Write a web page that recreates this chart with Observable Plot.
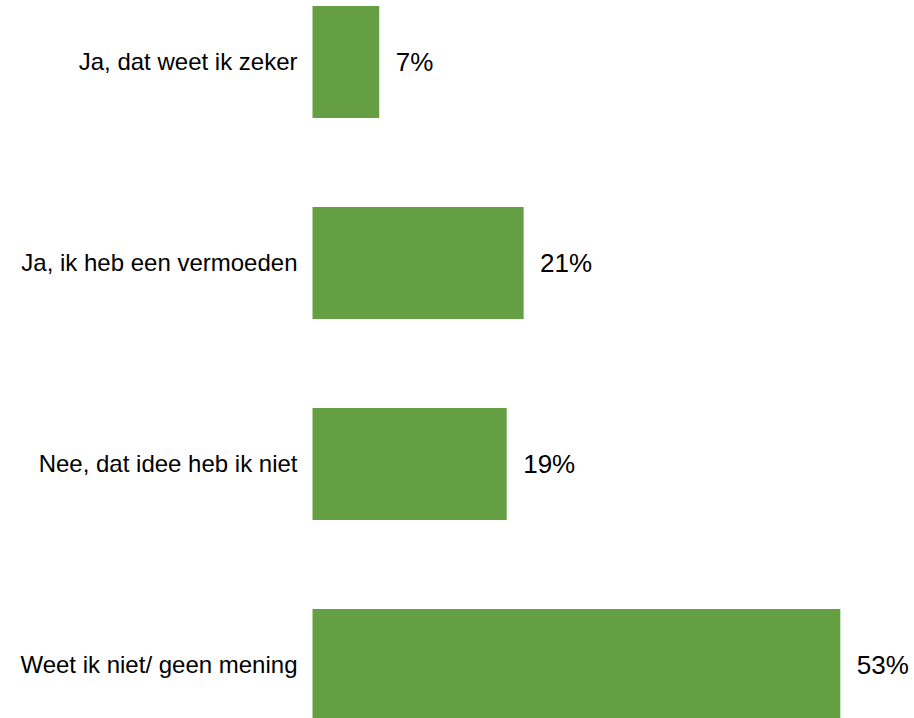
<!DOCTYPE html>
<html>
<head>
<meta charset="utf-8">
<script src="https://cdn.jsdelivr.net/npm/d3@7"></script>
<script src="https://cdn.jsdelivr.net/npm/@observablehq/plot@0.6"></script>
<style>
  html, body { margin: 0; padding: 0; background: #fff; }
  #chart { width: 914px; height: 718px; }
  svg { display: block; }
</style>
</head>
<body>
<div id="chart"></div>
<script>
const categories = [
  "Ja, dat weet ik zeker",
  "Ja, ik heb een vermoeden",
  "Nee, dat idee heb ik niet",
  "Weet ik niet/ geen mening"
];
// (labels show rounded percentages)
const values = [6.7, 21.2, 19.5, 53.0];
const valueLabels = ["7%", "21%", "19%", "53%"];

const data = categories.map((c, i) => ({category: c, value: values[i], label: valueLabels[i]}));

const chart = Plot.plot({
  width: 914,
  height: 718,
  marginLeft: 312,
  marginRight: 0,
  marginTop: 0,
  marginBottom: 0,
  style: {fontFamily: "Liberation Sans, Arial, sans-serif", background: "#fff"},
  x: {domain: [0, 53], range: [312.5, 840.3], axis: null},
  y: {domain: categories, range: [5, 721.2], paddingInner: 0.442, paddingOuter: 0, label: null},
  marks: [
    Plot.barX(data, {x: "value", y: "category", fill: "#64a043", inset: 0}),
    Plot.text(data, {x: "value", y: "category", text: "label", dx: 16, textAnchor: "start", fontSize: 26, fill: "#000"}),
    Plot.axisY({tickSize: 0, tickPadding: 15, fontSize: 24, label: null, color: "#000"})
  ]
});
document.getElementById("chart").appendChild(chart);
</script>
</body>
</html>
